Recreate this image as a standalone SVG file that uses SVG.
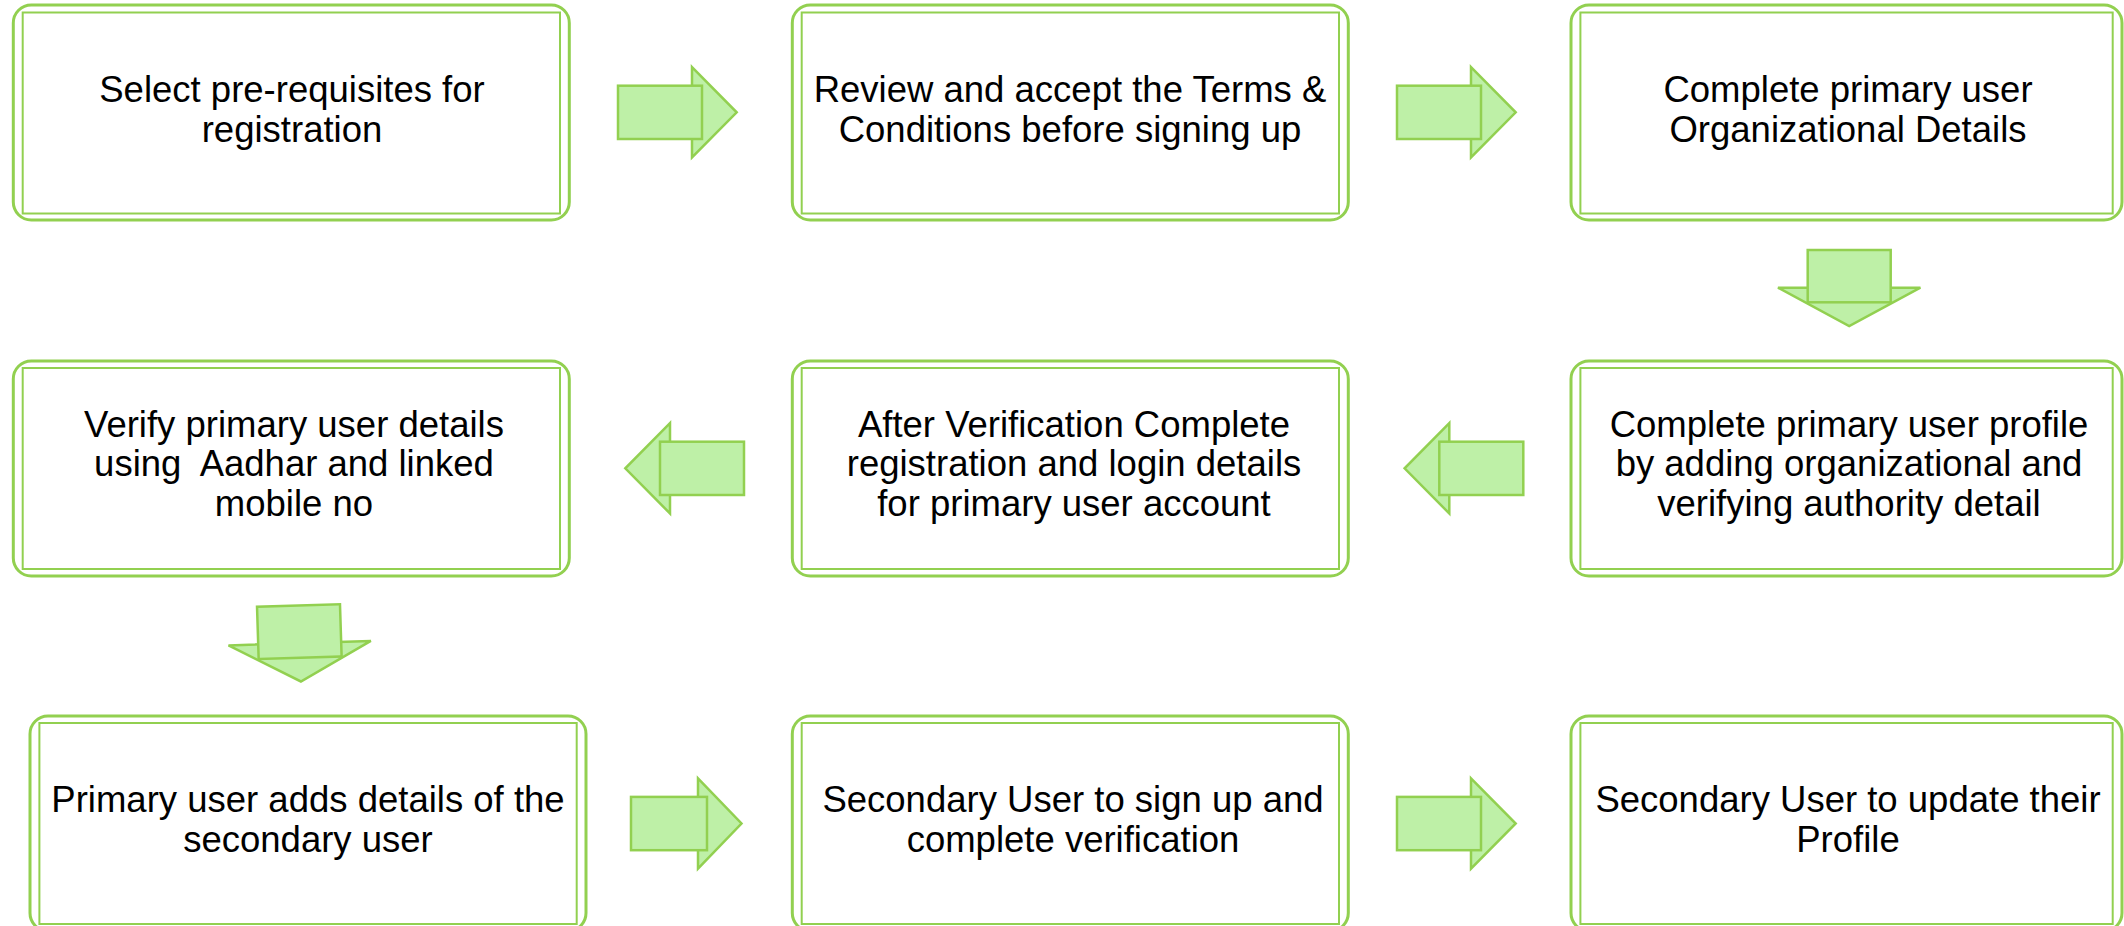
<svg xmlns="http://www.w3.org/2000/svg" width="2124" height="926" viewBox="0 0 2124 926">
<style>
.outer{fill:#ffffff;stroke:#92D050;stroke-width:3}
.inner{fill:none;stroke:#92D050;stroke-width:2}
.lbl{font-family:"Liberation Sans",Arial,sans-serif;font-size:36.5px;fill:#000000;text-anchor:middle;white-space:pre}
.arr{fill:#BEF0A7;stroke:#92D050;stroke-width:2.5;stroke-linejoin:miter}
</style>
<defs>
<g id="arrowR">
<polygon class="arr" points="74,-45.2 118.7,0 74,45.2"/>
<rect class="arr" x="0" y="-26.6" width="84" height="53.3"/>
</g>
<g id="arrowD">
<polygon class="arr" points="-71.2,37.7 71.2,37.7 0,76"/>
<rect class="arr" x="-41.5" y="0" width="83" height="52.3"/>
</g>
</defs>
<rect width="2124" height="926" fill="#ffffff"/>

<g id="node1">
<rect class="outer" x="13.3" y="5" width="556" height="215" rx="18"/>
<rect class="inner" x="22.7" y="12.5" width="537.3" height="201"/>
<text class="lbl" x="292" y="102">Select pre-requisites for</text>
<text class="lbl" x="292" y="142">registration</text>
</g>
<g id="node2">
<rect class="outer" x="792.3" y="5" width="556" height="215" rx="18"/>
<rect class="inner" x="801.7" y="12.5" width="537.3" height="201"/>
<text class="lbl" x="1070" y="102">Review and accept the Terms &amp;</text>
<text class="lbl" x="1070" y="142">Conditions before signing up</text>
</g>
<g id="node3">
<rect class="outer" x="1571" y="5" width="551" height="215" rx="18"/>
<rect class="inner" x="1580.4" y="12.5" width="532.3" height="201"/>
<text class="lbl" x="1848" y="102">Complete primary user</text>
<text class="lbl" x="1848" y="142">Organizational Details</text>
</g>

<g id="node4">
<rect class="outer" x="13.3" y="361" width="556" height="215" rx="18"/>
<rect class="inner" x="22.7" y="368" width="537.3" height="201"/>
<text class="lbl" x="294" y="437">Verify primary user details</text>
<text class="lbl" x="294" y="476">using  Aadhar and linked</text>
<text class="lbl" x="294" y="516">mobile no</text>
</g>
<g id="node5">
<rect class="outer" x="792.3" y="361" width="556" height="215" rx="18"/>
<rect class="inner" x="801.7" y="368" width="537.3" height="201"/>
<text class="lbl" x="1074" y="437">After Verification Complete</text>
<text class="lbl" x="1074" y="476">registration and login details</text>
<text class="lbl" x="1074" y="516">for primary user account</text>
</g>
<g id="node6">
<rect class="outer" x="1571" y="361" width="551" height="215" rx="18"/>
<rect class="inner" x="1580.4" y="368" width="532.3" height="201"/>
<text class="lbl" x="1849" y="437">Complete primary user profile</text>
<text class="lbl" x="1849" y="476">by adding organizational and</text>
<text class="lbl" x="1849" y="516">verifying authority detail</text>
</g>

<g id="node7">
<rect class="outer" x="30" y="716" width="556" height="215" rx="18"/>
<rect class="inner" x="39.4" y="723" width="537.3" height="201"/>
<text class="lbl" x="308" y="812">Primary user adds details of the</text>
<text class="lbl" x="308" y="852">secondary user</text>
</g>
<g id="node8">
<rect class="outer" x="792.3" y="716" width="556" height="215" rx="18"/>
<rect class="inner" x="801.7" y="723" width="537.3" height="201"/>
<text class="lbl" x="1073" y="812">Secondary User to sign up and</text>
<text class="lbl" x="1073" y="852">complete verification</text>
</g>
<g id="node9">
<rect class="outer" x="1571" y="716" width="551" height="215" rx="18"/>
<rect class="inner" x="1580.4" y="723" width="532.3" height="201"/>
<text class="lbl" x="1848" y="812">Secondary User to update their</text>
<text class="lbl" x="1848" y="852">Profile</text>
</g>

<g id="connectors">
<use href="#arrowR" transform="translate(618,112.3)"/>
<use href="#arrowR" transform="translate(1397,112.3)"/>
<use href="#arrowD" transform="translate(1849.2,250)"/>
<use href="#arrowR" transform="translate(1523.3,468.3) scale(-1,1)"/>
<use href="#arrowR" transform="translate(744,468.3) scale(-1,1)"/>
<use href="#arrowD" transform="translate(298.5,605.5) rotate(-1.8)"/>
<g transform="translate(631,823.5)">
<polygon class="arr" points="67,-45.2 110.5,0 67,45.2"/>
<rect class="arr" x="0" y="-26.6" width="76" height="53.3"/>
</g>
<use href="#arrowR" transform="translate(1397,823.5)"/>
</g>
</svg>
